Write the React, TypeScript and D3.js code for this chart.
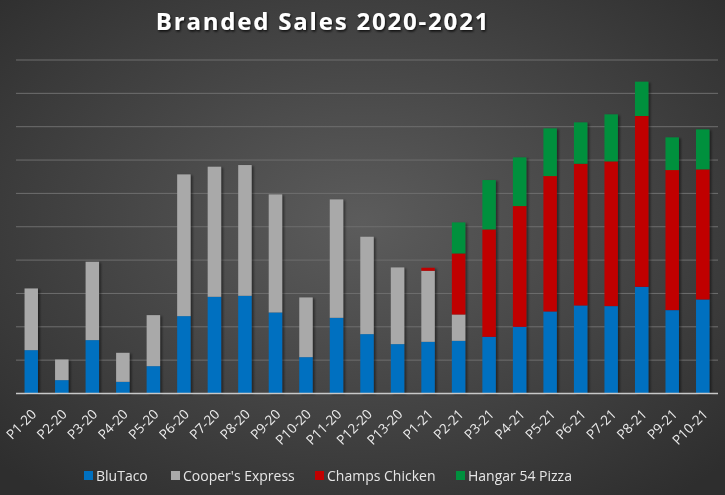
import React from "react";
import * as d3 from "d3";

const categories = ["P1-20","P2-20","P3-20","P4-20","P5-20","P6-20","P7-20","P8-20","P9-20","P10-20","P11-20","P12-20","P13-20","P1-21","P2-21","P3-21","P4-21","P5-21","P6-21","P7-21","P8-21","P9-21","P10-21"];
const bluTaco = [13.0,4.0,16.0,3.5,8.2,23.2,29.0,29.3,24.3,10.9,22.7,17.8,14.8,15.5,15.8,17.0,20.0,24.6,26.4,26.2,32.0,25.0,28.2];
const coopers = [18.5,6.2,23.5,8.7,15.3,42.5,39.0,39.2,35.4,17.9,35.5,29.2,23.0,21.3,7.9,0,0,0,0,0,0,0,0];
const champs = [0,0,0,0,0,0,0,0,0,0,0,0,0,0.9,18.3,32.2,36.2,40.6,42.5,43.4,51.2,42.0,39.0];
const hangar = [0,0,0,0,0,0,0,0,0,0,0,0,0,0,9.3,14.8,14.6,14.3,12.4,14.1,10.3,9.8,12.0];
const seriesNames = ["BluTaco","Cooper's Express","Champs Chicken","Hangar 54 Pizza"];
const seriesColors = ["#0070c0","#a9a9a9","#c00000","#00903e"];
const yTicks = [0,10,20,30,40,50,60,70,80,90,100];

const W = 725, H = 495;
const legendX = [84, 171, 315, 456];

export default function App() {
  const x = d3.scaleBand<string>().domain(categories).range([16, 718]).paddingInner(0.56).paddingOuter(0.28);
  const y = d3.scaleLinear().domain([0, 100]).range([393.5, 60]);
  const rows = categories.map((c, i) => ({ cat: c, s0: bluTaco[i], s1: coopers[i], s2: champs[i], s3: hangar[i] }));
  const stack = d3.stack<any>().keys(["s0","s1","s2","s3"])(rows);

  return (
    <svg width={W} height={H} style={{ position: "fixed", left: 0, top: 0 }}>
      <defs>
        <radialGradient id="bg" cx="50%" cy="45%" r="70%">
          <stop offset="0%" stopColor="#5c5c5c" />
          <stop offset="100%" stopColor="#2e2e2e" />
        </radialGradient>
        <filter id="sh" x="-30%" y="-10%" width="160%" height="130%">
          <feDropShadow dx="2" dy="1" stdDeviation="1.2" floodColor="#000" floodOpacity="0.45" />
        </filter>
        <filter id="tsh" x="-10%" y="-30%" width="120%" height="160%">
          <feDropShadow dx="1" dy="1.5" stdDeviation="1.2" floodColor="#000" floodOpacity="0.8" />
        </filter>
      </defs>
      <rect width={W} height={H} fill="url(#bg)" />
      {yTicks.slice(1).map(t => (
        <line key={t} x1={16} x2={718} y1={y(t)} y2={y(t)} stroke="#6e6e6e" strokeWidth={1} />
      ))}
      <g filter="url(#sh)">
        {stack.map((s, si) => s.map((d, i) => (
          d[1] - d[0] > 0 ? (
            <rect key={si + "-" + i} x={x(categories[i])} width={x.bandwidth()} y={y(d[1])} height={y(d[0]) - y(d[1])} fill={seriesColors[si]} />
          ) : null
        )))}
      </g>
      <line x1={16} x2={718} y1={y(0)} y2={y(0)} stroke="#c8c8c8" strokeWidth={1.5} />
      {categories.map(c => {
        const cx = (x(c) as number) + x.bandwidth() / 2 + 6;
        const cy = 415;
        return (
          <text key={c} x={cx} y={cy} transform={`rotate(-45 ${cx} ${cy})`} textAnchor="end" fill="#ececec"
            fontFamily="'Open Sans', sans-serif" fontSize={13.5}>{c}</text>
        );
      })}
      <text x={323} y={30} textAnchor="middle" fill="#ffffff" fontFamily="'Open Sans', sans-serif" fontWeight={700}
        fontSize={24} letterSpacing={1.8} filter="url(#tsh)">Branded Sales 2020-2021</text>
      {seriesNames.map((n, i) => (
        <g key={n}>
          <rect x={legendX[i]} y={471} width={9} height={9} fill={seriesColors[i]} />
          <text x={legendX[i] + 12} y={481} fill="#e6e6e6" fontFamily="'Open Sans', sans-serif" fontSize={14}>{n}</text>
        </g>
      ))}
    </svg>
  );
}
